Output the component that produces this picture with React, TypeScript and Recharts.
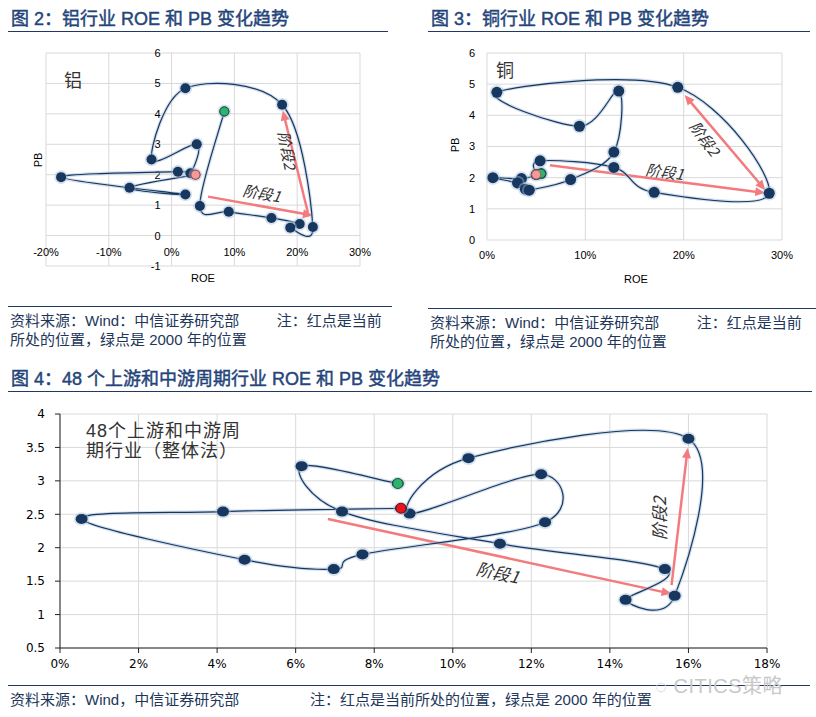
import { ScatterChart, Scatter, XAxis, YAxis, CartesianGrid, ReferenceLine, ReferenceDot } from 'recharts'

// 图2 铝行业 (2000 -> 当前)
const alRoe = [0.084, 0.045, 0.091, 0.159, 0.204, 0.189, 0.225, 0.176, 0.022, -0.032, 0.04, 0.03, 0.01, -0.176, 0.022, -0.067, 0.038]
const alPb = [4.08, 0.97, 0.78, 0.58, 0.38, 0.26, 0.28, 4.3, 4.84, 2.5, 3.0, 2.05, 2.1, 1.92, 1.35, 1.57, 2.0]
const alXTicks = [-0.2, -0.1, 0, 0.1, 0.2, 0.3]
const alYTicks = [-1, 0, 1, 2, 3, 4, 5, 6]

// 图3 铜行业
const cuRoe = [0.055, 0.035, 0.006, 0.031, 0.039, 0.043, 0.085, 0.129, 0.134, 0.094, 0.01, 0.194, 0.287, 0.17, 0.129, 0.054, 0.05]
const cuPb = [2.13, 1.97, 2.0, 1.83, 1.63, 1.6, 1.94, 2.82, 4.78, 3.65, 4.74, 4.9, 1.5, 1.53, 2.33, 2.54, 2.1]
const cuXTicks = [0, 0.1, 0.2, 0.3]
const cuYTicks = [0, 1, 2, 3, 4, 5, 6]

// 图4 48个上游和中游周期行业（整体法）
const cycRoe = [0.086, 0.0615, 0.0718, 0.112, 0.154, 0.144, 0.1565, 0.16, 0.104, 0.089, 0.1225, 0.1235, 0.077, 0.0697, 0.047, 0.0055, 0.0415, 0.0868]
const cycPb = [2.96, 3.22, 2.54, 2.06, 1.68, 1.22, 1.28, 3.63, 3.34, 2.51, 3.1, 2.38, 1.9, 1.68, 1.82, 2.43, 2.54, 2.59]
const cycXTicks = [0, 0.02, 0.04, 0.06, 0.08, 0.1, 0.12, 0.14, 0.16, 0.18]
const cycYTicks = [0.5, 1, 1.5, 2, 2.5, 3, 3.5, 4]

const NAVY = '#17375e'
const PINK = '#f37b7d'
const CJK = '"Liberation Sans", Arial, "Noto Sans CJK SC", sans-serif'

const zip = (xs: number[], ys: number[]) => xs.map((x, i) => ({ x, y: ys[i] }))
const pct = (v: number) => `${Math.round(v * 100)}%`

// Excel-like smoothed line (Catmull-Rom as cubic bezier)
function excelCurve(context: any) {
  let pts: number[][] = []
  return {
    areaStart() {},
    areaEnd() {},
    lineStart() {
      pts = []
    },
    point(x: number, y: number) {
      pts.push([+x, +y])
    },
    lineEnd() {
      const n = pts.length
      if (!n) return
      context.moveTo(pts[0][0], pts[0][1])
      for (let i = 0; i < n - 1; i++) {
        const p0 = pts[Math.max(i - 1, 0)]
        const p1 = pts[i]
        const p2 = pts[i + 1]
        const p3 = pts[Math.min(i + 2, n - 1)]
        context.bezierCurveTo(
          p1[0] + (p2[0] - p0[0]) / 6,
          p1[1] + (p2[1] - p0[1]) / 6,
          p2[0] - (p3[0] - p1[0]) / 6,
          p2[1] - (p3[1] - p1[1]) / 6,
          p2[0],
          p2[1]
        )
      }
    },
  }
}

const navyDot = (rx: number, ry: number) => (p: any) => (
  <g>
    <ellipse cx={p.cx} cy={p.cy} rx={rx + 1.8} ry={ry + 1.8} fill="#a7bedb" opacity={0.45} />
    <ellipse cx={p.cx} cy={p.cy} rx={rx} ry={ry} fill={NAVY} />
  </g>
)
const colorDot = (r: number, fill: string, stroke: string) => (p: any) => (
  <circle cx={p.cx} cy={p.cy} r={r} fill={fill} stroke={stroke} strokeWidth={1} />
)
const noDot = () => <g />

const arrowShape = (both: boolean) => (p: any) => {
  const { x1, y1, x2, y2 } = p
  const a = Math.atan2(y2 - y1, x2 - x1)
  const L = 10
  const W = 4.5
  const head = (x: number, y: number, ang: number) => {
    const bx = x - L * Math.cos(ang)
    const by = y - L * Math.sin(ang)
    const px = -Math.sin(ang) * W
    const py = Math.cos(ang) * W
    return `${x},${y} ${bx + px},${by + py} ${bx - px},${by - py}`
  }
  const sx = both ? x1 + (L - 2) * Math.cos(a) : x1
  const sy = both ? y1 + (L - 2) * Math.sin(a) : y1
  return (
    <g>
      <line x1={sx} y1={sy} x2={x2 - (L - 2) * Math.cos(a)} y2={y2 - (L - 2) * Math.sin(a)} stroke={PINK} strokeWidth={2.5} />
      <polygon points={head(x2, y2, a)} fill={PINK} />
      {both && <polygon points={head(x1, y1, a + Math.PI)} fill={PINK} />}
    </g>
  )
}

const rotText = (label: string, angle: number, size: number) => (p: any) => (
  <text
    x={p.cx}
    y={p.cy}
    transform={`rotate(${angle} ${p.cx} ${p.cy})`}
    textAnchor="middle"
    dominantBaseline="central"
    fontSize={size}
    fill="#333"
    fontFamily='"Noto Sans CJK SC", sans-serif'
    fontStyle="italic"
  >
    {label}
  </text>
)

const tickText = (label: string, dx: number, dy: number, anchor: string) => (p: any) => (
  <text x={p.cx + dx} y={p.cy + dy} textAnchor={anchor} dominantBaseline="central" fontSize={11} fill="#000">
    {label}
  </text>
)

const Txt = ({ x, y, children, style }: any) => (
  <div style={{ position: 'absolute', left: x, top: y, whiteSpace: 'nowrap', fontFamily: CJK, ...style }}>{children}</div>
)

const Title = ({ x, y, w, children }: any) => (
  <div
    style={{
      position: 'absolute',
      left: x,
      top: y,
      width: w,
      height: 24,
      borderBottom: '1.5px solid #1f3864',
      fontFamily: CJK,
      fontWeight: 'normal',
      WebkitTextStroke: '0.45px #25457a',
      fontSize: 18,
      lineHeight: '22px',
      color: '#25457a',
      whiteSpace: 'nowrap',
      paddingLeft: 3,
      boxSizing: 'border-box',
    }}
  >
    {children}
  </div>
)

const Source = ({ x, y, w, lines }: any) => (
  <div
    style={{
      position: 'absolute',
      left: x,
      top: y,
      width: w,
      borderTop: '1.5px solid #1f3864',
      fontFamily: CJK,
      fontSize: 15,
      lineHeight: '19px',
      color: '#22365a',
      paddingTop: 4,
      paddingLeft: 2,
      whiteSpace: 'pre',
    }}
  >
    {lines.map((l: string, i: number) => (
      <div key={i}>{l}</div>
    ))}
  </div>
)

function Series({ data, rx, ry, first, last }: any) {
  return [
    <Scatter key="glow" data={data} line={{ stroke: '#b6c9e2', strokeWidth: 3.5, strokeOpacity: 0.6 }} lineJointType={excelCurve} shape={noDot} isAnimationActive={false} />,
    <Scatter key="main" data={data} line={{ stroke: NAVY, strokeWidth: 1.2 }} lineJointType={excelCurve} shape={navyDot(rx, ry)} isAnimationActive={false} />,
    <Scatter key="first" data={data.slice(0, 1)} shape={first} isAnimationActive={false} />,
    <Scatter key="last" data={data.slice(-1)} shape={last} isAnimationActive={false} />,
  ]
}

function AluminumChart() {
  const data = zip(alRoe, alPb)
  return (
    <ScatterChart width={382} height={260} margin={{ top: 13, right: 30, bottom: 34, left: 38 }} style={{ position: 'absolute', left: 8, top: 40, fontFamily: CJK }}>
      <CartesianGrid stroke="#d9d9d9" />
      <XAxis type="number" dataKey="x" domain={[-0.2, 0.3]} ticks={alXTicks} hide />
      <YAxis type="number" dataKey="y" domain={[-1, 6]} ticks={alYTicks} hide />
      {alYTicks.map((v) => (
        <ReferenceDot key={`y${v}`} x={0} y={v} r={0} ifOverflow="visible" shape={tickText(String(v), -11, 0, 'end')} />
      ))}
      {alXTicks.map((v) => (
        <ReferenceDot key={`x${v}`} x={v} y={0} r={0} ifOverflow="visible" shape={tickText(pct(v), 0, 16, 'middle')} />
      ))}
      {Series({ data, rx: 5, ry: 5, first: colorDot(4.5, '#2db36f', '#1d5b33'), last: colorDot(4.5, '#f39a9a', '#c0504d') })}
      <ReferenceLine segment={[{ x: 0.058, y: 1.28 }, { x: 0.225, y: 0.66 }]} shape={arrowShape(false)} ifOverflow="visible" />
      <ReferenceLine segment={[{ x: 0.217, y: 0.76 }, { x: 0.177, y: 4.11 }]} shape={arrowShape(false)} ifOverflow="visible" />
      <ReferenceDot x={0.144} y={1.41} r={0} ifOverflow="visible" shape={rotText('阶段1', 10, 15)} />
      <ReferenceDot x={0.185} y={2.8} r={0} ifOverflow="visible" shape={rotText('阶段2', 80, 15)} />
    </ScatterChart>
  )
}

function CopperChart() {
  const data = zip(cuRoe, cuPb)
  return (
    <ScatterChart width={388} height={260} margin={{ top: 13, right: 34, bottom: 30, left: 0 }} style={{ position: 'absolute', left: 428, top: 40, fontFamily: CJK }}>
      <CartesianGrid stroke="#d9d9d9" />
      <XAxis type="number" dataKey="x" domain={[0, 0.3]} ticks={cuXTicks} tickFormatter={pct} axisLine={false} tickLine={false} tickMargin={5} height={30} tick={{ fontSize: 11, fill: '#000' }} />
      <YAxis type="number" dataKey="y" domain={[0, 6]} ticks={cuYTicks} axisLine={false} tickLine={false} tickMargin={6} width={59} tick={{ fontSize: 11, fill: '#000' }} />
      {Series({ data, rx: 5.5, ry: 5.5, first: colorDot(4.5, '#2db36f', '#1d5b33'), last: colorDot(4.5, '#f39a9a', '#c0504d') })}
      <ReferenceLine segment={[{ x: 0.064, y: 2.4 }, { x: 0.283, y: 1.51 }]} shape={arrowShape(false)} ifOverflow="visible" />
      <ReferenceLine segment={[{ x: 0.201, y: 4.65 }, { x: 0.283, y: 1.6 }]} shape={arrowShape(true)} ifOverflow="visible" />
      <ReferenceDot x={0.181} y={2.21} r={0} ifOverflow="visible" shape={rotText('阶段1', 8, 15)} />
      <ReferenceDot x={0.222} y={3.27} r={0} ifOverflow="visible" shape={rotText('阶段2', 54, 15)} />
    </ScatterChart>
  )
}

function CycleChart() {
  const data = zip(cycRoe, cycPb)
  const tick = { fontSize: 12, fill: '#000', fontFamily: '"DejaVu Sans", Verdana, sans-serif' }
  return (
    <ScatterChart width={800} height={285} margin={{ top: 14, right: 33, bottom: 7, left: 0 }} style={{ position: 'absolute', left: 0, top: 400, fontFamily: CJK }}>
      <CartesianGrid stroke="#d9d9d9" />
      <XAxis type="number" dataKey="x" domain={[0, 0.18]} ticks={cycXTicks} tickFormatter={pct} axisLine={{ stroke: '#222' }} tickLine={{ stroke: '#222' }} tickSize={5} tickMargin={6} height={30} tick={tick} />
      <YAxis type="number" dataKey="y" domain={[0.5, 4]} ticks={cycYTicks} axisLine={{ stroke: '#222' }} tickLine={{ stroke: '#222' }} tickSize={5} tickMargin={10} width={60} tick={tick} />
      {Series({ data, rx: 6, ry: 5, first: colorDot(5, '#2db36f', '#1d5b33'), last: colorDot(5, '#e8141c', '#7a1010') })}
      <ReferenceLine segment={[{ x: 0.0682, y: 2.43 }, { x: 0.1557, y: 1.31 }]} shape={arrowShape(false)} ifOverflow="visible" />
      <ReferenceLine segment={[{ x: 0.1557, y: 1.44 }, { x: 0.1598, y: 3.49 }]} shape={arrowShape(false)} ifOverflow="visible" />
      <ReferenceDot x={0.1115} y={1.64} r={0} ifOverflow="visible" shape={rotText('阶段1', 12, 17)} />
      <ReferenceDot x={0.1525} y={2.44} r={0} ifOverflow="visible" shape={rotText('阶段2', -90, 17)} />
    </ScatterChart>
  )
}

export default function App() {
  return (
    <div style={{ position: 'absolute', left: 0, top: 0, width: 816, height: 717, background: '#fff', overflow: 'hidden' }}>
      <Title x={8} y={8} w={380}>图 2：铝行业 ROE 和 PB 变化趋势</Title>
      <Title x={428} y={8} w={382}>图 3：铜行业 ROE 和 PB 变化趋势</Title>

      <AluminumChart />
      <CopperChart />

      <Txt x={64} y={66} style={{ fontSize: 18, color: '#333' }}>铝</Txt>
      <Txt x={496} y={56} style={{ fontSize: 18, color: '#333' }}>铜</Txt>
      <Txt x={38} y={160} style={{ fontSize: 11, transform: 'translate(-50%,-50%) rotate(-90deg)' }}>PB</Txt>
      <Txt x={203} y={278} style={{ fontSize: 11, transform: 'translate(-50%,-50%)' }}>ROE</Txt>
      <Txt x={455} y={145} style={{ fontSize: 11, transform: 'translate(-50%,-50%) rotate(-90deg)' }}>PB</Txt>
      <Txt x={636} y={279} style={{ fontSize: 11, transform: 'translate(-50%,-50%)' }}>ROE</Txt>

      <Source x={8} y={306} w={382} lines={['资料来源：Wind：中信证券研究部         注：红点是当前', '所处的位置，绿点是 2000 年的位置']} />
      <Source x={428} y={308} w={386} lines={['资料来源：Wind：中信证券研究部         注：红点是当前', '所处的位置，绿点是 2000 年的位置']} />

      <Title x={8} y={368} w={804}>图 4：48 个上游和中游周期行业 ROE 和 PB 变化趋势</Title>

      <CycleChart />

      <Txt x={86} y={421} style={{ fontSize: 18, lineHeight: '20px', color: '#333', letterSpacing: 1 }}>
        48个上游和中游周
        <br />
        期行业（整体法）
      </Txt>

      <Source x={8} y={685} w={800} lines={['资料来源：Wind，中信证券研究部                 注：红点是当前所处的位置，绿点是 2000 年的位置']} />
      <Txt x={655} y={670} style={{ fontSize: 20, color: '#c8c8c8', letterSpacing: 0.5 }}>◌ CITICS策略</Txt>
    </div>
  )
}
